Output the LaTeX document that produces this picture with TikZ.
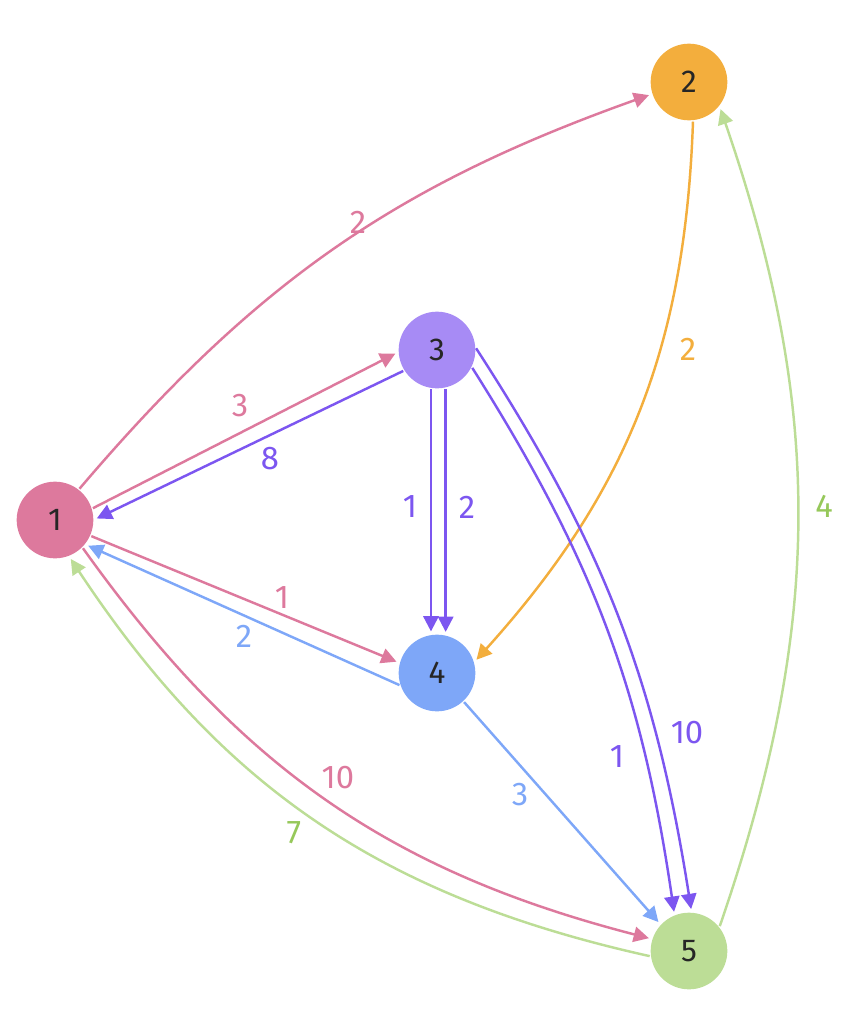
\documentclass[tikz,border=0pt]{standalone}
\usepackage{fontspec}
\setmainfont{Fira Sans}
\usetikzlibrary{arrows.meta}
\definecolor{cpink}{RGB}{221,121,157}
\definecolor{corange}{RGB}{243,174,61}
\definecolor{cviolet}{RGB}{167,139,245}
\definecolor{cpurple}{RGB}{124,86,240}
\definecolor{cblue}{RGB}{126,167,248}
\definecolor{cgreen}{RGB}{188,221,150}
\definecolor{cgreentext}{RGB}{150,200,90}
\begin{document}
\begin{tikzpicture}[x=0.03cm, y=-0.03cm,
				vertex/.style={circle, minimum size=2.3cm, inner sep=0pt, text=black!85, font=\fontsize{27}{30}\selectfont},
				wlabel/.style={inner sep=0pt, font=\fontsize{28}{32}\selectfont},
				edge/.style={line width=2.1pt, -{Triangle[length=13pt,width=13pt]}, shorten >=3pt, shorten <=1pt},
			]
			\useasboundingbox (0,0) rectangle (866,1010);

			% vertices
			\node[vertex, fill=cpink]   (n1) at (55, 520)  {1};
			\node[vertex, fill=corange] (n2) at (689, 82)  {2};
			\node[vertex, fill=cviolet] (n3) at (437, 350) {3};
			\node[vertex, fill=cblue]   (n4) at (437, 673) {4};
			\node[vertex, fill=cgreen]  (n5) at (689, 951) {5};

			% edges out of 1
			\draw[edge, cpink] (n1.52) to[bend left=15] (n2.198);
			\draw[edge, cpink] (n1.17) -- (n3.183);
			\draw[edge, cpink] (n1.-24) -- (n4.165);
			\draw[edge, cpink] (n1.-45) to[bend right=20] (n5.162);

			% edges out of 2
			\draw[edge, corange] (n2.-84) to[bend left=20] (n4.16);

			% edges out of 3
			\draw[edge, cpurple] (n3.212) -- (n1.0);
			\draw[edge, cpurple] (n3.-99) -- (n4.99);
			\draw[edge, cpurple] (n3.-77) -- (n4.77);
			\draw[edge, cpurple] (n3.-26) to[bend left=12] (n5.112);
			\draw[edge, cpurple] (n3.4) to[bend left=12] (n5.86);

			% edges out of 4
			\draw[edge, cblue] (n4.199) -- (n1.-39);
			\draw[edge, cblue] (n4.-47) -- (n5.137);

			% edges out of 5
			\draw[edge, cgreen] (n5.188) to[bend left=22] (n1.-69);
			\draw[edge, cgreen] (n5.38) to[bend right=19] (n2.-38);

			% weights
			\node[wlabel, text=cpink]      (w12)  at (358, 222) {2};
			\node[wlabel, text=cpink]      (w13)  at (240, 406) {3};
			\node[wlabel, text=cpurple]    (w31)  at (270, 459) {8};
			\node[wlabel, text=cpink]      (w14)  at (282, 598) {1};
			\node[wlabel, text=cblue]      (w41)  at (244, 636) {2};
			\node[wlabel, text=cpink]      (w15)  at (338, 778) {10};
			\node[wlabel, text=cgreentext] (w51)  at (294, 833) {7};
			\node[wlabel, text=corange]    (w24)  at (688, 349) {2};
			\node[wlabel, text=cpurple]    (w34a) at (410, 507) {1};
			\node[wlabel, text=cpurple]    (w34b) at (467, 507) {2};
			\node[wlabel, text=cpurple]    (w35a) at (617, 757) {1};
			\node[wlabel, text=cpurple]    (w35b) at (687, 733) {10};
			\node[wlabel, text=cblue]      (w45)  at (520, 795) {3};
			\node[wlabel, text=cgreentext] (w52)  at (824, 506) {4};
		\end{tikzpicture}
\end{document}
